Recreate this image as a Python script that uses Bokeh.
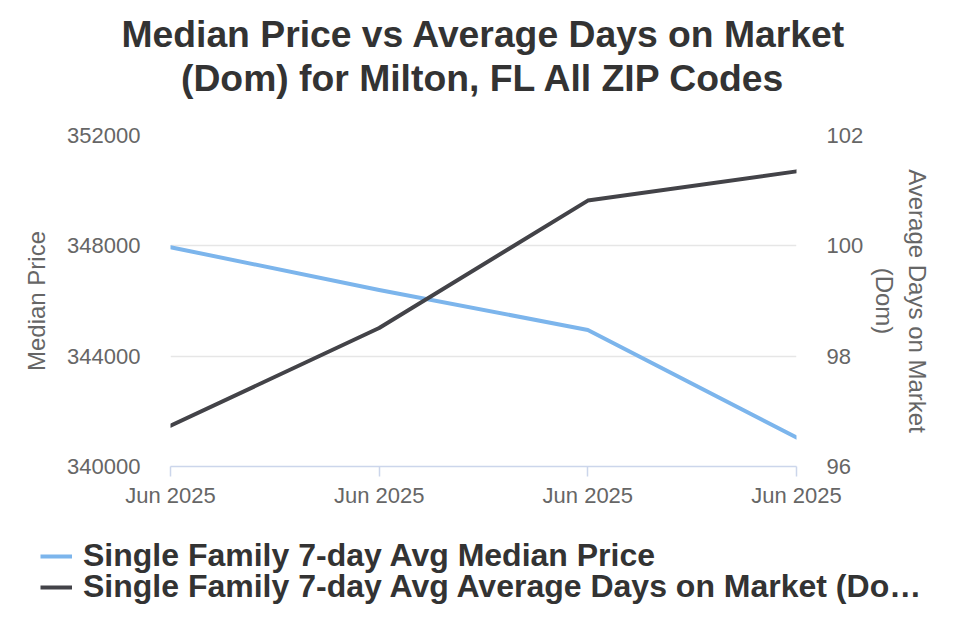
from bokeh.plotting import figure
from bokeh.layouts import column
from bokeh.models import (Range1d, LinearAxis, FixedTicker, Legend, LegendItem,
                          BasicTickFormatter, Title)
from bokeh.embed import file_html
from bokeh.resources import INLINE

# Weekly points (all fall in June 2025)
period_labels = ["Jun 2025", "Jun 2025", "Jun 2025", "Jun 2025"]
positions = [0, 1, 2, 3]
median_price = [347950, 346400, 344950, 341050]
avg_dom = [96.74, 98.51, 100.82, 101.35]

price_ticks = [340000, 344000, 348000, 352000]
dom_ticks = [96, 98, 100, 102]

series_names = ["Single Family 7-day Avg Median Price",
                "Single Family 7-day Avg Average Days on Market (Do\u2026"]

BLUE = "#7cb5ec"
DARK = "#434348"
FONT = "Liberation Sans"

p = figure(width=960, height=520, output_backend="svg", toolbar_location=None,
           x_range=Range1d(0, 3), y_range=Range1d(340000, 352000),
           min_border_left=170, min_border_right=164,
           min_border_top=135, min_border_bottom=54)
p.outline_line_color = None
p.background_fill_color = "white"
p.border_fill_color = "white"


def style_title(t, size="37.3px"):
    t.align = "center"
    t.text_font = FONT
    t.text_font_size = size
    t.text_font_style = "bold"
    t.text_color = "#333333"
    t.standoff = 0
    t.offset = -3  # centre on the page rather than on the frame


# title stack, from the frame outward: gap, second line, first line
p.title.text = "Median Price vs Average Days on Market"
style_title(p.title)
gap = Title(text=" ")
style_title(gap, "31px")
p.add_layout(gap, "above")
second_line = Title(text="(Dom) for Milton, FL All ZIP Codes")
style_title(second_line)
p.add_layout(second_line, "above")

# second scale for days on market
p.extra_y_ranges = {"dom": Range1d(96, 102)}

# x axis
xa = p.xaxis[0]
xa.ticker = FixedTicker(ticks=positions)
xa.major_label_overrides = {pos: lab for pos, lab in zip(positions, period_labels)}
xa.axis_line_color = "#ccd6eb"
xa.axis_line_width = 1.5
xa.major_tick_line_color = "#ccd6eb"
xa.major_tick_line_width = 1.5
xa.major_tick_in = 0
xa.major_tick_out = 10
xa.minor_tick_line_color = None
xa.major_label_standoff = 6
xa.major_label_text_font = FONT
xa.major_label_text_font_size = "22px"
xa.major_label_text_color = "#666666"

# left axis
ya = p.yaxis[0]
ya.ticker = FixedTicker(ticks=price_ticks)
ya.formatter = BasicTickFormatter(use_scientific=False)
ya.axis_line_color = None
ya.major_tick_line_color = None
ya.minor_tick_line_color = None
ya.major_tick_out = 0
ya.major_tick_in = 0
ya.major_label_standoff = 30
ya.major_label_text_font = FONT
ya.major_label_text_font_size = "22px"
ya.major_label_text_color = "#666666"
ya.axis_label = "Median Price"
ya.axis_label_text_font = FONT
ya.axis_label_text_font_size = "24px"
ya.axis_label_text_font_style = "normal"
ya.axis_label_text_color = "#666666"
ya.axis_label_standoff = 14

# right axis
ra = LinearAxis(y_range_name="dom", ticker=FixedTicker(ticks=dom_ticks))
ra.axis_line_color = None
ra.major_tick_line_color = None
ra.minor_tick_line_color = None
ra.major_tick_out = 0
ra.major_tick_in = 0
ra.major_label_standoff = 30
ra.major_label_text_font = FONT
ra.major_label_text_font_size = "22px"
ra.major_label_text_color = "#666666"
ra.axis_label = "Average Days on Market\n(Dom)"
ra.axis_label_text_font = FONT
ra.axis_label_text_font_size = "24px"
ra.axis_label_text_font_style = "normal"
ra.axis_label_text_color = "#666666"
ra.axis_label_standoff = 5
p.add_layout(ra, "right")

p.xgrid.grid_line_color = None
p.ygrid.grid_line_color = "#e6e6e6"
p.ygrid.grid_line_width = 1.5
p.ygrid.ticker = FixedTicker(ticks=price_ticks)

p.line(positions, median_price, line_color=BLUE, line_width=4,
       line_join="round", line_cap="round")
p.line(positions, avg_dom, line_color=DARK, line_width=4,
       line_join="round", line_cap="round", y_range_name="dom")

# legend strip under the chart; its key lines carry the same series,
# kept outside this strip's visible range so only the legend shows
leg_fig = figure(width=960, height=120, output_backend="svg", toolbar_location=None,
                 x_range=Range1d(0, 1), y_range=Range1d(0, 1),
                 min_border_left=0, min_border_right=0,
                 min_border_top=0, min_border_bottom=0)
leg_fig.axis.visible = False
leg_fig.grid.visible = False
leg_fig.outline_line_color = None
leg_fig.border_fill_color = "white"
key_price = leg_fig.line(positions, median_price, line_color=BLUE, line_width=4)
key_dom = leg_fig.line(positions, avg_dom, line_color=DARK, line_width=4)


def legend_row(label, renderer, bottom):
    lg = Legend(items=[LegendItem(label=label, renderers=[renderer])],
                location=(40, bottom), orientation="vertical")
    lg.label_text_font = FONT
    lg.label_text_font_size = "32px"
    lg.label_text_font_style = "bold"
    lg.label_text_color = "#333333"
    lg.glyph_width = 32
    lg.glyph_height = 20
    lg.label_standoff = 11
    lg.padding = 0
    lg.margin = 0
    lg.border_line_color = None
    lg.background_fill_alpha = 0
    leg_fig.add_layout(lg, "center")


# one row per series so the rows can sit closer than a legend's item height
legend_row(series_names[0], key_price, 66)
legend_row(series_names[1], key_dom, 35)

page = column(p, column(leg_fig, spacing=0), spacing=0)
open("out.html", "w").write(file_html(page, INLINE))
